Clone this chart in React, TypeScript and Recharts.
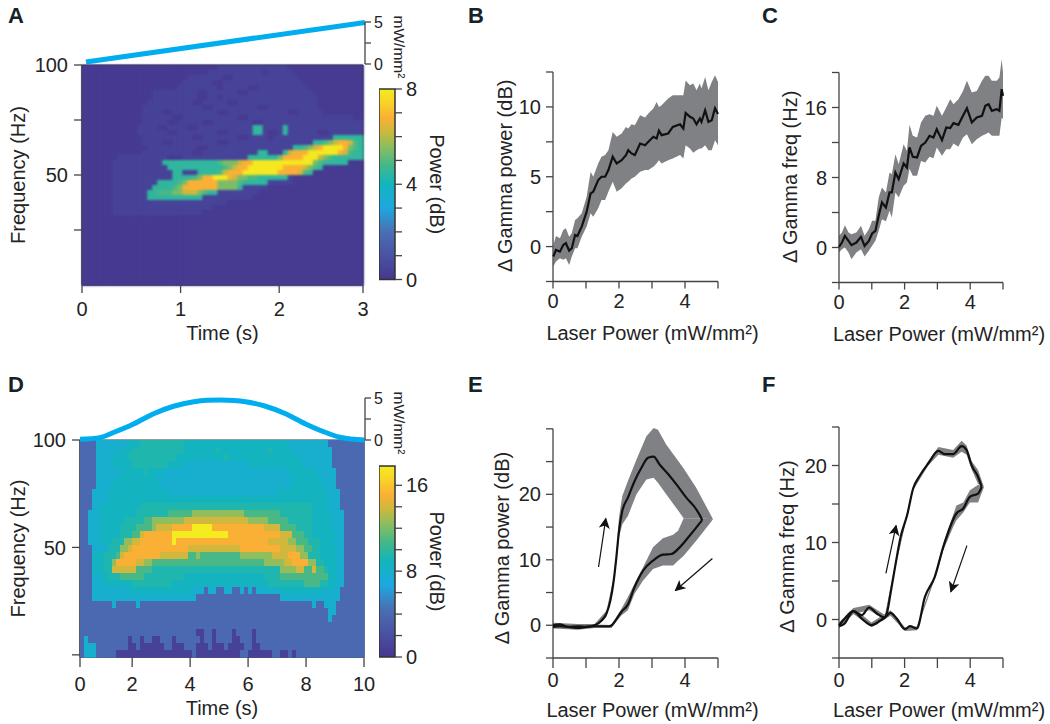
import { Area, Bar, BarChart, ComposedChart, Line, LineChart, ReferenceArea, ReferenceLine, Scatter, ScatterChart, XAxis, YAxis } from "recharts";

const FONT = "'Liberation Sans', Arial, sans-serif";
const AXIS = "#444444";
const TEXT = "#232323";
const BAND = "#808184";
const LASER = "#00aeef";

// colour bar, fraction of range -> colour
const colorOffsets = [0, 0.125, 0.25, 0.375, 0.5, 0.6, 0.7, 0.78, 0.85, 0.92, 1];
const colorValues = ["#45378f", "#4a52a4", "#4a6fb3", "#1ea7e0", "#12b5bd", "#42b889", "#8fbd5d", "#d0b83c", "#fab035", "#f9cf28", "#f4ec1f"];

// A: spectrogram, one character per cell, index into powerLevelsA (rows from 100 Hz down)
const powerLevelsA = [0.1, 0.45, 4.5, 4.9, 5.4, 6.2, 6.8, 7.9];
const spectrogramA = [
  "0000000000 0000000000 0000000111 1111111111 1000000000 000000",
  "0000000000 0000000000 0000011111 1111110111 1100000000 000000",
  "0000000000 0000000000 0111111100 1111111111 1110000000 000000",
  "0000000000 0000000000 1111110011 1111111111 1111000000 000000",
  "0000000000 0000000001 1111111011 1110011111 1111100000 000000",
  "0000000000 0000111111 1110011111 1001111111 1111110000 000000",
  "0000000000 0000111111 1110011011 1111111111 1111111000 000000",
  "0000000000 0001111111 1100111110 0111111111 1111111000 000000",
  "0000000000 0011111111 1111001111 1111100111 1111111000 000000",
  "0000000000 0011110011 1111111001 1111111111 1001111100 000000",
  "0000000000 0011111100 1111111111 1001111111 1111111111 111100",
  "0000000000 0011111001 1111001111 1111001111 1111111111 111111",
  "0000000000 0111100111 1001111111 1111221111 2111111111 111111",
  "0000000000 0111111001 1111111001 1111221001 2111111001 111111",
  "0000000000 0011111111 1100111111 1001111011 1111111111 222222",
  "0000000000 0011110011 1111111001 1111111111 1111112234 566532",
  "0000000000 0001111111 1110011111 1111111111 1122345677 776432",
  "0000000000 0011111111 1100111111 1111122111 2566677777 765322",
  "0000000111 1111111000 1111111111 1112222224 6666777543 222222",
  "0000001111 1111112222 2222222344 4566777777 7777774322 222000",
  "0000001111 1111111222 2222222234 5667777777 6666543200 000000",
  "0000001111 1111111122 1112222356 6677777776 6665320000 000000",
  "0000001111 1111111122 2234667776 5443322222 2100000000 000000",
  "0000001111 1111122223 4666666444 4322222111 1100000000 000000",
  "0000001111 1111222234 6666666444 4211111000 0000000000 000000",
  "0000001111 1112233344 5554322111 1111100000 0000000000 000000",
  "0000001111 1112222222 2222111111 1111000000 0000000000 000000",
  "0000001111 1111111111 1111111110 0000000000 0000000000 000000",
  "0000001111 1111111111 1111110000 0000000000 0000000000 000000",
  "0000001111 1111111111 1111000000 0000000000 0000000000 000000",
];

// D: spectrogram, same coding with powerLevelsD
const powerLevelsD = [0.8, 4, 7.9, 8.7, 9.4, 10.8, 12.5, 13.9, 15.1, 17.8];
const spectrogramD = [
  "1111222222 2233344444 4444443333 3333333333 3333333333 3322222222 2211111111 1",
  "1111222222 3334444444 4444443333 3333433333 3333333433 3332222222 2221111111 1",
  "1111222233 3344444444 4444333333 3333334333 3333333333 3333322222 2221111111 1",
  "1111222233 3334444444 4433332222 2222222222 2233333333 3333332222 2221111111 1",
  "1111222222 2333334333 3222222222 2222222222 2222222222 2233333332 2222111111 1",
  "1111222223 3333333332 2222222222 2222222222 2222222222 2223333333 2222111111 1",
  "1111222233 3333333333 2222222222 2222222222 2222222222 2223333333 3222111111 1",
  "1112222333 3333333333 3322222222 2222222222 2222222223 3333333333 3322211111 1",
  "1112222333 3333333333 3333333333 3333333333 3333333333 3333333333 3322211111 1",
  "1112233333 3333344444 4444444444 4444444444 4444444444 4444444433 3322211111 1",
  "1122233333 3333444444 4455555566 6666666666 6555555555 4444444433 3332221111 1",
  "1122233333 3444445566 6666667777 7777777777 7766666555 5544444433 3332221111 1",
  "1122233333 4444555567 7778888899 9998888888 8888887777 5555444433 3332221111 1",
  "1122233333 4445578888 8889999999 9999999888 8888888888 7775554433 3333221111 1",
  "1122233344 4667788888 8889888888 8888888888 8888888777 7766555444 3332221111 1",
  "1112222444 6678888888 8888888777 7777777777 8888888888 7777665544 3333221111 1",
  "1113334445 7888888888 7777777556 5555555555 6666666677 7788866444 3333221111 1",
  "1113334468 8888776655 5555555555 5555555555 5555556666 6778888664 4333221111 1",
  "1113334477 7777555544 4444444444 4444444444 4444444444 6666775575 5433221111 1",
  "1112233444 5555554444 4444443333 3333333333 3333334444 5555555555 5533221111 1",
  "1112223333 3334444444 4443333333 3333333333 3333333444 4444445555 4433221111 1",
  "1112222222 2233333333 3333333322 2122112211 2121222222 3333333333 3222211111 1",
  "1112222222 2222222222 2222222221 1111111111 1111111111 2222222222 2222211111 1",
  "1111111121 1111211111 1111111111 1111111111 1111111111 1111111121 1222111111 1",
  "1111111111 1111111111 1111111111 1111111111 1111111111 1111111111 1122111111 1",
  "1111111111 1111111111 1111111111 1111111111 1111111111 1111111111 1121111111 1",
  "1111111111 1111111111 1111111111 1111111111 1111111111 1111111111 1111111111 1",
  "1111111111 1111111111 1111111110 0110111101 1110111111 1111111111 1111111111 1",
  "1211111111 1101101100 1110111111 0110111100 1110111111 1111111111 1111111111 1",
  "1222111111 1100100000 0110001110 0010001000 0110011111 1111111111 1111111111 1",
  "1222111110 0000000000 0000000010 0000000000 1100000011 0010111111 1111111111 1",
];

// laser ramps above the spectrograms
const rampTimeA = [0.04, 2.85];
const rampPowerA = [0.24, 4.95];
const rampTimeD = [0.2, 0.89, 1.35, 2.04, 2.73, 3.42, 4.11, 4.57, 5.03, 5.49, 5.89, 6.58, 7.27, 7.96, 8.65, 9.17, 9.98];
const rampPowerD = [0.08, 0.28, 0.89, 1.91, 3.13, 4.02, 4.55, 4.72, 4.76, 4.7, 4.55, 4.02, 3.13, 1.91, 0.89, 0.3, 0];

// B
const laserB = [0.01, 0.09, 0.21, 0.31, 0.39, 0.49, 0.57, 0.67, 0.74, 0.87, 1.02, 1.14, 1.22, 1.37, 1.47, 1.58, 1.68, 1.81, 1.93, 2.08, 2.21, 2.28, 2.38, 2.48, 2.64, 2.79, 2.89, 3.04, 3.14, 3.21, 3.29, 3.49, 3.63, 3.85, 3.95, 4.02, 4.15, 4.25, 4.35, 4.45, 4.5, 4.61, 4.71, 4.81, 4.91, 5];
const gammaPowerB = [-0.71, -0.24, -0.36, 0.12, 0.24, -0.29, -0.12, 0.83, 0.76, 1.43, 2.5, 3.81, 3.93, 4.76, 5, 5, 5.48, 6.43, 5.95, 6.19, 6.55, 6.9, 6.67, 6.55, 7.38, 7.26, 7.5, 7.86, 7.74, 8.29, 7.98, 8.1, 8.57, 8.76, 8.45, 9.57, 9.29, 9.17, 8.76, 9.17, 8.93, 9.76, 8.93, 9.05, 9.9, 9.5];
const gammaPowerHighB = [0.12, 0.76, 0.6, 1.19, 1.31, 0.71, 0.95, 1.9, 2.02, 2.38, 3.57, 5.36, 5, 5.95, 6.43, 6.55, 6.9, 8.21, 7.86, 8.1, 8.57, 8.45, 8.76, 8.69, 9.4, 9.24, 9.52, 9.88, 10.36, 10, 10.12, 10.6, 10.83, 10.83, 10.83, 11.9, 11.55, 11.67, 11.19, 11.67, 11.31, 12.14, 11.19, 11.79, 12.26, 11.79];
const gammaPowerLowB = [-1.43, -1.07, -0.83, -0.95, -0.83, -1.31, -0.71, -0.12, -0.12, 0.71, 1.43, 2.38, 2.14, 2.74, 3.33, 3.33, 3.93, 4.64, 3.93, 4.17, 4.52, 4.64, 4.88, 5, 5.36, 5.48, 5.48, 5.71, 5.95, 6.19, 5.95, 6.19, 6.31, 6.55, 6.31, 7.26, 7.02, 6.71, 6.9, 7.02, 7.02, 7.26, 6.9, 6.9, 7.62, 7.26];

// C
const laserC = [0, 0.09, 0.18, 0.29, 0.38, 0.53, 0.67, 0.78, 0.91, 1.01, 1.11, 1.21, 1.31, 1.43, 1.54, 1.61, 1.72, 1.82, 1.97, 2.07, 2.15, 2.25, 2.38, 2.5, 2.63, 2.76, 2.88, 2.98, 3.14, 3.27, 3.39, 3.49, 3.64, 3.78, 3.9, 4.05, 4.2, 4.36, 4.46, 4.56, 4.66, 4.81, 4.89, 4.96, 5];
const gammaFreqC = [0.08, 0.57, 1.33, 0.76, 0.27, 0.57, 1.22, 0.19, 0.76, 1.6, 1.9, 3.62, 5.14, 4.57, 6.29, 6.29, 8.57, 7.81, 9.6, 9.14, 11.43, 10.36, 10.29, 11.62, 12, 12.76, 12.57, 13.52, 12.27, 13.71, 13.64, 14.21, 14.02, 15.05, 15.92, 14.29, 14.86, 15.05, 16.19, 16.38, 15.62, 15.81, 15.62, 18.1, 17.33];
const gammaFreqHighC = [1.33, 1.71, 2.55, 1.71, 1.52, 1.71, 2.48, 1.33, 2.1, 3.05, 3.05, 5.71, 6.86, 6.29, 8.57, 8.38, 10.67, 9.52, 11.81, 11.05, 14.02, 12.76, 12.57, 14.29, 15.05, 15.24, 15.05, 16.19, 15.05, 16, 16.95, 16.38, 16.95, 17.9, 19.05, 17.71, 17.9, 19.05, 19.62, 19.62, 19.05, 19.05, 19.43, 21.52, 20];
const gammaFreqLowC = [-0.57, -0.19, 0, -0.57, -1.33, -0.57, -0.19, -1.03, -0.38, 0.19, 0.76, 1.9, 3.24, 3, 4.19, 3.43, 6.29, 5.71, 7.05, 7.43, 9, 8.19, 8.19, 9.9, 9.71, 10.38, 10.19, 11.43, 10.48, 11.24, 11.24, 11.9, 11.52, 12.57, 12.95, 11.81, 12.38, 12.76, 12.95, 13.14, 12.76, 12.76, 12.76, 14.86, 14.67];

// E, rising and falling branches of the triangle sweep
const riseLaserE = [0, 0.2, 0.45, 0.76, 1.01, 1.26, 1.46, 1.62, 1.74, 1.84, 1.92, 2, 2.1, 2.27, 2.47, 2.68, 2.88, 3.05, 3.23, 3.48, 3.74, 4.04, 4.34, 4.46, 4.52];
const riseGammaE = [0, 0.15, -0.25, -0.15, -0.25, 0, 0.66, 1.77, 3.8, 6.84, 10.38, 14.43, 17.47, 19.49, 22, 24.05, 25.57, 25.77, 24.56, 23.14, 21.52, 19.49, 17.72, 16.71, 16.05];
const fallLaserE = [0, 0.2, 0.45, 0.76, 1.01, 1.26, 1.52, 1.7, 1.8, 1.9, 2.07, 2.27, 2.47, 2.73, 3.03, 3.33, 3.59, 3.84, 4.14, 4.52];
const fallGammaE = [-0.25, -0.15, -0.25, -0.4, -0.25, -0.15, -0.15, -0.15, 0.1, 0.8, 2.03, 3.19, 5.82, 8.35, 9.87, 10.78, 10.89, 11.9, 13.67, 16.05];
const riseBandLaserE = [0, 0.76, 1.26, 1.62, 1.84, 1.92, 2, 2.1, 2.27, 2.53, 2.83, 3.05, 3.18, 3.43, 3.84, 3.96, 4.34, 4.85];
const riseBandLowE = [-0.3, -0.5, -0.1, 1.3, 6.3, 9.5, 13.4, 15.44, 16.7, 20, 22.28, 22.53, 21.77, 20, 17.2, 16.35, 16.35, 16.2];
const riseBandHighE = [0.4, 0.2, 0.2, 2.2, 7.3, 11, 16.5, 19.75, 22.03, 25.3, 28.86, 30.13, 29.87, 27.6, 24.8, 23.95, 21, 16.2];
const fallBandLaserE = [0, 0.76, 1.26, 1.77, 2.07, 2.27, 2.47, 2.73, 3.03, 3.33, 3.64, 3.79, 3.96, 4.34, 4.85];
const fallBandLowE = [-0.5, -0.7, -0.4, -0.4, 1.5, 2.3, 4.8, 6.84, 8.6, 9.11, 9.11, 9.87, 10.63, 12.9, 16.2];
const fallBandHighE = [0.2, 0.1, 0.1, 0.05, 2.5, 4.3, 6.33, 8.86, 11.9, 13.3, 13.82, 14.43, 16.35, 16.35, 16.2];

// F
const riseLaserF = [0, 0.15, 0.44, 0.69, 0.92, 1.15, 1.4, 1.47, 1.57, 1.71, 1.88, 2.08, 2.26, 2.47, 2.72, 3.03, 3.23, 3.48, 3.74, 3.89, 4.04, 4.24, 4.35];
const riseGammaF = [-0.74, 0, 1.08, 0.56, 1.56, 0.78, 0.26, 1, 3.38, 6.84, 10.74, 13.6, 17.01, 18.74, 20.26, 21.9, 21.47, 21.47, 22.51, 22, 20.04, 18.53, 17.23];
const fallLaserF = [0, 0.15, 0.44, 0.69, 0.99, 1.25, 1.4, 1.57, 1.76, 2.01, 2.16, 2.37, 2.62, 2.92, 3.18, 3.58, 3.79, 3.99, 4.24, 4.35];
const fallGammaF = [-0.87, -0.61, 1.08, 0.13, -0.74, -0.17, 0.26, 0.87, 0.13, -1.26, -0.87, -1.17, 2.94, 5.54, 9.44, 13.77, 14.42, 15.93, 16.36, 17.23];
const riseBandLaserF = [0, 0.44, 0.92, 1.4, 1.71, 2.26, 2.72, 3.03, 3.48, 3.74, 3.89, 4.04, 4.24, 4.42];
const riseBandLowF = [-1.1, 0.7, 1.2, 0, 6.6, 16.8, 20, 21.4, 21, 21.8, 21.4, 19.5, 17.6, 17.2];
const riseBandHighF = [-0.4, 1.5, 1.9, 0.6, 7.1, 17.2, 20.6, 22.4, 22, 23.2, 22.6, 20.6, 19.4, 17.2];
const fallBandLaserF = [0, 0.44, 0.99, 1.57, 2.01, 2.37, 2.92, 3.18, 3.48, 3.58, 3.79, 3.99, 4.24, 4.42];
const fallBandLowF = [-1.1, 0.7, -1, 0.5, -1.5, -1.4, 5.3, 9, 12, 12.9, 13.9, 15.2, 15.2, 17.2];
const fallBandHighF = [-0.6, 1.5, -0.4, 1.2, -1, -0.9, 5.8, 9.9, 13.6, 14.8, 15.2, 16.8, 17.5, 17.2];

// sweep direction arrows, [laser, gamma]
const arrowsE = [[[1.38, 8.9], [1.6, 16.3]], [[4.83, 10.2], [3.71, 5.3]]];
const arrowsF = [[[1.43, 6], [1.74, 12.2]], [[3.9, 9.6], [3.41, 3.6]]];

// tick lists
const laserTicks = [0, 1, 2, 3, 4, 5];
const laserLabels = ["0", "", "2", "", "4", ""];
const timeTicksA = [0, 1, 2, 2.85];
const timeLabelsA = ["0", "1", "2", "3"];
const timeTicksD = [0.2, 2, 4, 6, 8, 10];
const timeLabelsD = ["0", "2", "4", "6", "8", "10"];
const freqTicksA = [25, 50, 75, 100];
const freqLabelsA = ["", "50", "", "100"];
const freqTicksD = [0, 50, 100];
const freqLabelsD = ["", "50", "100"];
const rampTicks = [0, 2.5, 5];
const rampLabels = ["0", "", "5"];
const barTicksA = [0, 1, 2, 3, 4, 5, 6, 7, 8];
const barLabelsA = ["0", "", "", "", "4", "", "", "", "8"];
const barTicksD = [0, 2, 4, 6, 8, 10, 12, 14, 16];
const barLabelsD = ["0", "", "", "", "8", "", "", "", "16"];
const ticksB = [-2.5, 0, 2.5, 5, 7.5, 10, 12.5];
const labelsB = ["", "0", "", "5", "", "10", ""];
const ticksC = [-4, 0, 4, 8, 12, 16, 20];
const labelsC = ["", "0", "", "8", "", "16", ""];
const ticksE = [-5, 0, 5, 10, 15, 20, 25, 30];
const labelsE = ["", "0", "", "10", "", "20", "", ""];
const ticksF = [-5, 0, 5, 10, 15, 20, 25];
const labelsF = ["", "0", "", "10", "", "20", ""];

const tickText = { fontSize: 20, fill: TEXT, fontFamily: FONT };
const labelFrom = (ticks: number[], labels: string[]) => (v: number) => labels[ticks.indexOf(v)] ?? "";
const axisLine = { stroke: AXIS, strokeWidth: 1.3 };

function powerColor(f: number) {
  const x = Math.min(1, Math.max(0, f));
  let i = 0;
  while (i < colorOffsets.length - 2 && x > colorOffsets[i + 1]) i++;
  const k = (x - colorOffsets[i]) / (colorOffsets[i + 1] - colorOffsets[i]);
  const a = colorValues[i];
  const b = colorValues[i + 1];
  const mix = (s: number) => Math.round(parseInt(a.slice(s, s + 2), 16) * (1 - k) + parseInt(b.slice(s, s + 2), 16) * k);
  return `rgb(${mix(1)},${mix(3)},${mix(5)})`;
}

function buildCells(rows: string[], levels: number[], nCols: number, nRows: number, t0: number, t1: number, f0: number, f1: number, pad: string) {
  const cells: any[] = [];
  for (let r = 0; r < nRows; r++) {
    const row = (rows[r] ?? "").replace(/ /g, "").padEnd(nCols, pad);
    for (let c = 0; c < nCols; c++) {
      cells.push({
        t: t0 + ((c + 0.5) * (t1 - t0)) / nCols,
        f: f1 - ((r + 0.5) * (f1 - f0)) / nRows,
        power: levels[Number(row[c])],
      });
    }
  }
  return cells;
}

function Spectrogram({ left, top, plotW, plotH, axisW, rows, levels, nCols, nRows, tDomain, fDomain, maxPower, timeTicks, timeLabels, freqTicks, freqLabels, pad, titleOffset, xTick, xMargin, soft, floor }: any) {
  const cells = buildCells(rows, levels, nCols, nRows, tDomain[0], tDomain[1], fDomain[0], fDomain[1], pad);
  const cw = plotW / nCols;
  const ch = plotH / nRows;
  return (
    <div className={soft ? "soft-map" : undefined} style={{ position: "absolute", left, top }}>
      <ScatterChart width={axisW + plotW + 12} height={plotH + 76} margin={{ top: 12, right: 12, bottom: 0, left: 0 }}>
        <XAxis type="number" dataKey="t" domain={tDomain} ticks={timeTicks} interval={0} tickFormatter={labelFrom(timeTicks, timeLabels)} tick={tickText} tickLine={axisLine} axisLine={axisLine} tickSize={xTick} tickMargin={xMargin} height={64}
          label={{ value: "Time (s)", position: "insideBottom", offset: titleOffset, style: tickText }} />
        <YAxis type="number" dataKey="f" domain={fDomain} ticks={freqTicks} interval={0} tickFormatter={labelFrom(freqTicks, freqLabels)} tick={tickText} tickLine={axisLine} axisLine={axisLine} tickSize={8} tickMargin={6} width={axisW}
          label={{ value: "Frequency (Hz)", angle: -90, position: "insideLeft", offset: 18, style: { ...tickText, textAnchor: "middle" } }} />
        <ReferenceArea x1={tDomain[0]} x2={tDomain[1]} y1={fDomain[0]} y2={fDomain[1]} fill={powerColor(floor / maxPower)} fillOpacity={1} stroke="none" />
        <Scatter data={cells} isAnimationActive={false}
          shape={(p: any) => <rect x={p.cx - cw / 2} y={p.cy - ch / 2} width={cw + 0.6} height={ch + 0.6} fill={powerColor(p.payload.power / maxPower)} />} />
        <ReferenceLine y={fDomain[1]} stroke="#333" strokeWidth={1.2} />
        <ReferenceLine x={tDomain[1]} stroke="#333" strokeWidth={1.2} />
        <ReferenceLine y={fDomain[0]} stroke="#333" strokeWidth={1.2} />
        <ReferenceLine x={tDomain[0]} stroke="#333" strokeWidth={1.2} />
      </ScatterChart>
    </div>
  );
}

function LaserStrip({ left, top, plotW, tDomain, times, powers, curve, labelDy }: any) {
  const table = times.map((t: number, i: number) => ({ t, p: powers[i] }));
  return (
    <div style={{ position: "absolute", left, top }}>
      <LineChart width={6 + plotW + 46} height={14 + 42 + 22} data={table} margin={{ top: 14, right: 0, bottom: 22, left: 6 }}>
        <XAxis type="number" dataKey="t" domain={tDomain} hide />
        <YAxis orientation="right" type="number" domain={[0, 5]} ticks={rampTicks} interval={0} tickFormatter={labelFrom(rampTicks, rampLabels)} tick={{ ...tickText, fontSize: 16 }} tickLine={axisLine} axisLine={axisLine} tickSize={6} tickMargin={3} width={46}
          label={{ value: "mW/mm²", angle: 90, position: "insideRight", offset: 12, dy: labelDy, style: { ...tickText, fontSize: 15.5, textAnchor: "middle" } }} />
        <Line dataKey="p" type={curve} stroke={LASER} strokeWidth={5} dot={false} isAnimationActive={false} />
      </LineChart>
    </div>
  );
}

function ColorBar({ id, left, top, plotH, maxPower, ticks, labels, labelDy }: any) {
  return (
    <div style={{ position: "absolute", left, top }}>
      <BarChart width={16 + 62} height={plotH + 20} data={[{ name: "Power", value: maxPower }]} barCategoryGap={0} margin={{ top: 10, right: 0, bottom: 10, left: 0 }}>
        <defs>
          <linearGradient id={id} x1="0" y1="1" x2="0" y2="0">
            {colorOffsets.map((o, i) => <stop key={o} offset={o} stopColor={colorValues[i]} />)}
          </linearGradient>
        </defs>
        <XAxis dataKey="name" hide />
        <YAxis orientation="right" type="number" domain={[0, maxPower]} ticks={ticks} interval={0} tickFormatter={labelFrom(ticks, labels)} tick={tickText} tickLine={axisLine} axisLine={false} tickSize={7} tickMargin={4} width={62}
          label={{ value: "Power (dB)", angle: 90, position: "insideRight", offset: 20, dy: labelDy, style: { ...tickText, textAnchor: "middle" } }} />
        <Bar dataKey="value" fill={`url(#${id})`} stroke="#333" strokeWidth={1.5} isAnimationActive={false} />
      </BarChart>
    </div>
  );
}

const zip = (xs: number[], lows: number[], highs: number[]) => xs.map((x, i) => ({ x, band: [lows[i], highs[i]] }));
const zipLine = (xs: number[], ys: number[]) => xs.map((x, i) => ({ x, y: ys[i] }));

function TracePanel({ left, top, plotW, plotH, axisW, domain, axisTop, ticks, labels, yTitle, titleX, titleDy, xTitleDx, xAxisH, xTitleOffset, xTick, bands, lines, arrows, curve, id }: any) {
  return (
    <div style={{ position: "absolute", left, top }}>
      <ComposedChart width={axisW + plotW + 46} height={plotH + 6 + xAxisH} margin={{ top: 6, right: 46, bottom: 0, left: 0 }}>
        <defs>
          <marker id={id} viewBox="0 0 10 10" refX="9" refY="5" markerWidth="11" markerHeight="11" markerUnits="userSpaceOnUse" orient="auto">
            <path d="M0,0 L10,5 L0,10 L2.5,5 z" fill="#111" />
          </marker>
        </defs>
        <XAxis type="number" dataKey="x" domain={[0, 5]} ticks={laserTicks} interval={0} tickFormatter={labelFrom(laserTicks, laserLabels)} tick={tickText} tickLine={axisLine} axisLine={axisLine} tickSize={xTick} tickMargin={5} height={xAxisH}
          label={{ value: "Laser Power (mW/mm²)", position: "insideBottom", offset: xTitleOffset, dx: xTitleDx, style: tickText }} />
        <YAxis type="number" domain={domain} ticks={ticks} interval={0} tickFormatter={labelFrom(ticks, labels)} tick={tickText} tickLine={axisLine} axisLine={false} tickSize={7} tickMargin={5} width={axisW}
          label={{ value: yTitle, angle: -90, position: "insideLeft", offset: titleX, dy: titleDy, style: { ...tickText, textAnchor: "middle" } }} />
        <ReferenceLine segment={[{ x: 0, y: domain[0] }, { x: 0, y: axisTop }]} stroke={AXIS} strokeWidth={1.3} />
        {bands.map((b: any, i: number) => (
          <Area key={i} data={b} dataKey="band" type="linear" stroke="none" fill={BAND} fillOpacity={1} dot={false} activeDot={false} isAnimationActive={false} />
        ))}
        {lines.map((l: any, i: number) => (
          <Line key={i} data={l} dataKey="y" type={curve} stroke="#111" strokeWidth={2.2} dot={false} isAnimationActive={false} />
        ))}
        {(arrows ?? []).map((a: number[][], i: number) => (
          <Line key={i} data={a.map(([x, y]) => ({ x, y }))} dataKey="y" type="linear" stroke="#111" strokeWidth={1.2} dot={false} markerEnd={`url(#${id})`} isAnimationActive={false} />
        ))}
      </ComposedChart>
    </div>
  );
}

function PanelLetter({ x, y, children }: any) {
  return <div style={{ position: "absolute", left: x, top: y, fontFamily: FONT, fontWeight: 700, fontSize: 22, color: "#14232a", lineHeight: "24px" }}>{children}</div>;
}

export default function App() {
  return (
    <div style={{ position: "absolute", left: 0, top: 0, width: 1050, height: 724, background: "#fff", overflow: "hidden" }}>
      <style>{`.soft-map .recharts-scatter { filter: blur(1px); }`}</style>
      <PanelLetter x={8} y={4}>A</PanelLetter>
      <PanelLetter x={468} y={4}>B</PanelLetter>
      <PanelLetter x={762} y={4}>C</PanelLetter>
      <PanelLetter x={8} y={373}>D</PanelLetter>
      <PanelLetter x={468} y={373}>E</PanelLetter>
      <PanelLetter x={762} y={373}>F</PanelLetter>

      <Spectrogram left={0} top={53} plotW={281} plotH={220} axisW={82} rows={spectrogramA} levels={powerLevelsA} nCols={56} nRows={44} tDomain={[0, 2.85]} fDomain={[0, 100]} maxPower={8}
        timeTicks={timeTicksA} timeLabels={timeLabelsA} freqTicks={freqTicksA} freqLabels={freqLabelsA} pad="0" titleOffset={9} xTick={8} xMargin={9} soft floor={0.1} />
      <LaserStrip left={76} top={8} plotW={283} tDomain={[0, 2.85]} times={rampTimeA} powers={rampPowerA} curve="linear" labelDy={4} />
      <ColorBar id="powerBarA" left={379} top={79} plotH={190.5} maxPower={8} ticks={barTicksA} labels={barLabelsA} labelDy={0} />

      <Spectrogram left={0} top={427.5} plotW={284} plotH={217} axisW={80} rows={spectrogramD} levels={powerLevelsD} nCols={71} nRows={31} tDomain={[0.2, 10]} fDomain={[-1, 100]} maxPower={17.8}
        timeTicks={timeTicksD} timeLabels={timeLabelsD} freqTicks={freqTicksD} freqLabels={freqLabelsD} pad="1" titleOffset={6} xTick={10} xMargin={10} floor={4} />
      <LaserStrip left={74} top={384} plotW={285} tDomain={[0.2, 10]} times={rampTimeD} powers={rampPowerD} curve="monotone" labelDy={4} />
      <ColorBar id="powerBarD" left={379} top={456} plotH={191} maxPower={17.8} ticks={barTicksD} labels={barLabelsD} labelDy={0} />

      <TracePanel id="arrowB" left={480} top={66} plotW={165} plotH={209.5} axisW={73} domain={[-2.5, 12.5]} axisTop={12.5} ticks={ticksB} labels={labelsB} yTitle="Δ Gamma power (dB)" titleX={25} titleDy={-1} xTitleDx={17} xAxisH={70} xTitleOffset={12} xTick={7} curve="linear"
        bands={[zip(laserB, gammaPowerLowB, gammaPowerHighB)]} lines={[zipLine(laserB, gammaPowerB)]} />
      <TracePanel id="arrowC" left={766} top={48.5} plotW={164} plotH={227.5} axisW={73} domain={[-4, 22]} axisTop={20} ticks={ticksC} labels={labelsC} yTitle="Δ Gamma freq (Hz)" titleX={24} titleDy={8} xTitleDx={18} xAxisH={70} xTitleOffset={12} xTick={7} curve="linear"
        bands={[zip(laserC, gammaFreqLowC, gammaFreqHighC)]} lines={[zipLine(laserC, gammaFreqC)]} />
      <TracePanel id="arrowE" left={480} top={422} plotW={165} plotH={230} axisW={73} domain={[-5, 30]} axisTop={30} ticks={ticksE} labels={labelsE} yTitle="Δ Gamma power (dB)" titleX={22} titleDy={5} xTitleDx={17} xAxisH={64} xTitleOffset={5} xTick={10} curve="monotone"
        bands={[zip(riseBandLaserE, riseBandLowE, riseBandHighE), zip(fallBandLaserE, fallBandLowE, fallBandHighE)]} lines={[zipLine(riseLaserE, riseGammaE), zipLine(fallLaserE, fallGammaE)]} arrows={arrowsE} />
      <TracePanel id="arrowF" left={766} top={421} plotW={164} plotH={231} axisW={73} domain={[-5, 25]} axisTop={25} ticks={ticksF} labels={labelsF} yTitle="Δ Gamma freq (Hz)" titleX={21} titleDy={4} xTitleDx={18} xAxisH={64} xTitleOffset={5} xTick={10} curve="monotone"
        bands={[zip(riseBandLaserF, riseBandLowF, riseBandHighF), zip(fallBandLaserF, fallBandLowF, fallBandHighF)]} lines={[zipLine(riseLaserF, riseGammaF), zipLine(fallLaserF, fallGammaF)]} arrows={arrowsF} />
    </div>
  );
}
